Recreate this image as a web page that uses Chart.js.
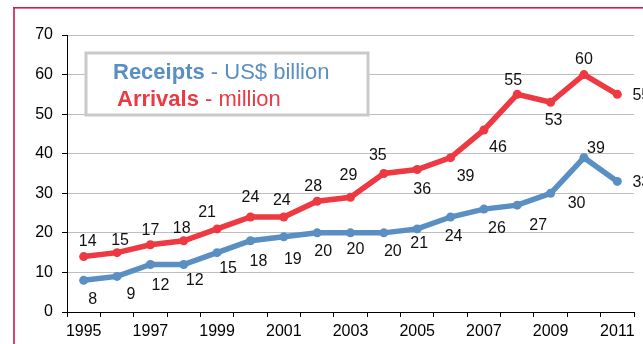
<!DOCTYPE html>
<html>
<head>
<meta charset="utf-8">
<script src="https://cdn.jsdelivr.net/npm/chart.js@4"></script>
<style>
  html, body { margin: 0; padding: 0; background: #fff; }
  #wrap { position: relative; width: 643px; height: 344px; }
</style>
</head>
<body>
<div id="wrap"><canvas id="c" width="643" height="344"></canvas></div>
<script>
// Tourism figures, 1995-2011
const years = ['1995','1996','1997','1998','1999','2000','2001','2002','2003','2004','2005','2006','2007','2008','2009','2010','2011'];
const receipts = [8, 9, 12, 12, 15, 18, 19, 20, 20, 20, 21, 24, 26, 27, 30, 39, 33];   // US$ billion
const arrivals = [14, 15, 17, 18, 21, 24, 24, 28, 29, 35, 36, 39, 46, 55, 53, 60, 55];  // million
const yTicks = [0, 10, 20, 30, 40, 50, 60, 70];

const BLUE = '#5A8FC3';
const RED = '#EE3942';
const FONT = '"Liberation Sans Narrow", "Liberation Sans", Arial, sans-serif';

// value labels, nudged off each point
const labelOffsets = {
  arrivals: [[4,-15],[3,-12],[0,-14],[-2,-12],[-10,-16],[0,-19],[-2,-16],[-4,-15],[-2,-22],[-6,-18],
             [5,20],[15,19],[14,18],[-4,-14],[3,18],[0,-15],[24,1]],
  receipts: [[9,19],[14,18],[10,21],[11,16],[11,16],[8,21],[9,23],[6,19],[5,17],[9,19],
             [2,15],[3,20],[13,19],[21,20],[26,10],[12,-9],[24,1]]
};

const frame = {
  id: 'frame',
  beforeDraw(chart) {
    const ctx = chart.ctx;
    ctx.save();
    ctx.fillStyle = '#fff';
    ctx.fillRect(0, 0, chart.width, chart.height);
    ctx.fillStyle = '#D4457A';
    ctx.fillRect(13, 8, 2, chart.height - 8);
    ctx.fillStyle = '#CE1E50';
    ctx.fillRect(13, 7, chart.width - 13, 1.6);
    ctx.restore();
  }
};

const valueLabels = {
  id: 'valueLabels',
  afterDatasetsDraw(chart) {
    const ctx = chart.ctx;
    ctx.save();
    ctx.font = '16px ' + FONT;
    ctx.fillStyle = '#111';
    ctx.textAlign = 'center';
    ctx.textBaseline = 'middle';
    chart.data.datasets.forEach((ds, di) => {
      const offs = labelOffsets[ds.key];
      chart.getDatasetMeta(di).data.forEach((pt, i) => {
        const [dx, dy] = offs[i];
        ctx.fillText(String(ds.data[i]), pt.x + dx, pt.y + dy);
      });
    });
    ctx.restore();
  }
};

const legendBox = {
  id: 'legendBox',
  afterDraw(chart) {
    const ctx = chart.ctx;
    ctx.save();
    ctx.fillStyle = '#fff';
    ctx.fillRect(86, 53, 282, 62);
    ctx.strokeStyle = '#C9C9C9';
    ctx.lineWidth = 3;
    ctx.strokeRect(86, 53, 282, 62);
    ctx.textBaseline = 'alphabetic';
    const rows = [
      { x: 113, y: 79, bold: 'Receipts', rest: ' - US$ billion', color: BLUE },
      { x: 117, y: 106, bold: 'Arrivals', rest: ' - million', color: RED }
    ];
    rows.forEach(r => {
      ctx.fillStyle = r.color;
      ctx.font = 'bold 22px "Liberation Sans", Arial, sans-serif';
      ctx.fillText(r.bold, r.x, r.y);
      const w = ctx.measureText(r.bold).width;
      ctx.font = '22px "Liberation Sans", Arial, sans-serif';
      ctx.fillText(r.rest, r.x + w, r.y);
    });
    ctx.restore();
  }
};

new Chart(document.getElementById('c'), {
  type: 'line',
  data: {
    labels: years,
    datasets: [
      { key: 'receipts', label: 'Receipts - US$ billion', data: receipts,
        borderColor: BLUE, backgroundColor: BLUE, borderWidth: 5.5,
        pointRadius: 4.5, pointBackgroundColor: BLUE, pointBorderWidth: 0, tension: 0 },
      { key: 'arrivals', label: 'Arrivals - million', data: arrivals,
        borderColor: RED, backgroundColor: RED, borderWidth: 5.5,
        pointRadius: 4.5, pointBackgroundColor: RED, pointBorderWidth: 0, tension: 0 }
    ]
  },
  options: {
    responsive: false,
    animation: false,
    devicePixelRatio: 1,
    layout: { padding: { left: 0, top: 35, right: 9, bottom: 0 } },
    plugins: { legend: { display: false }, tooltip: { enabled: false } },
    scales: {
      x: {
        offset: true,
        grid: { offset: true, drawOnChartArea: false, drawTicks: true, tickLength: 5, tickColor: '#000' },
        border: { color: '#000', width: 1 },
        ticks: {
          autoSkip: false, maxRotation: 0, minRotation: 0, padding: 5, color: '#000',
          font: { family: FONT, size: 16 },
          callback: (v, i) => (i % 2 === 0 ? years[i] : '')
        },
        afterFit(scale) { scale.height = 32; }
      },
      y: {
        min: 0, max: 70,
        afterBuildTicks(scale) { scale.ticks = yTicks.map(v => ({ value: v })); },
        grid: { color: '#BEBEBE', lineWidth: 1, tickLength: 5, tickColor: '#000' },
        border: { color: '#000', width: 1 },
        ticks: { padding: 9, color: '#000', font: { family: FONT, size: 16 } },
        afterFit(scale) { scale.width = 67; }
      }
    }
  },
  plugins: [frame, valueLabels, legendBox]
});
</script>
</body>
</html>
